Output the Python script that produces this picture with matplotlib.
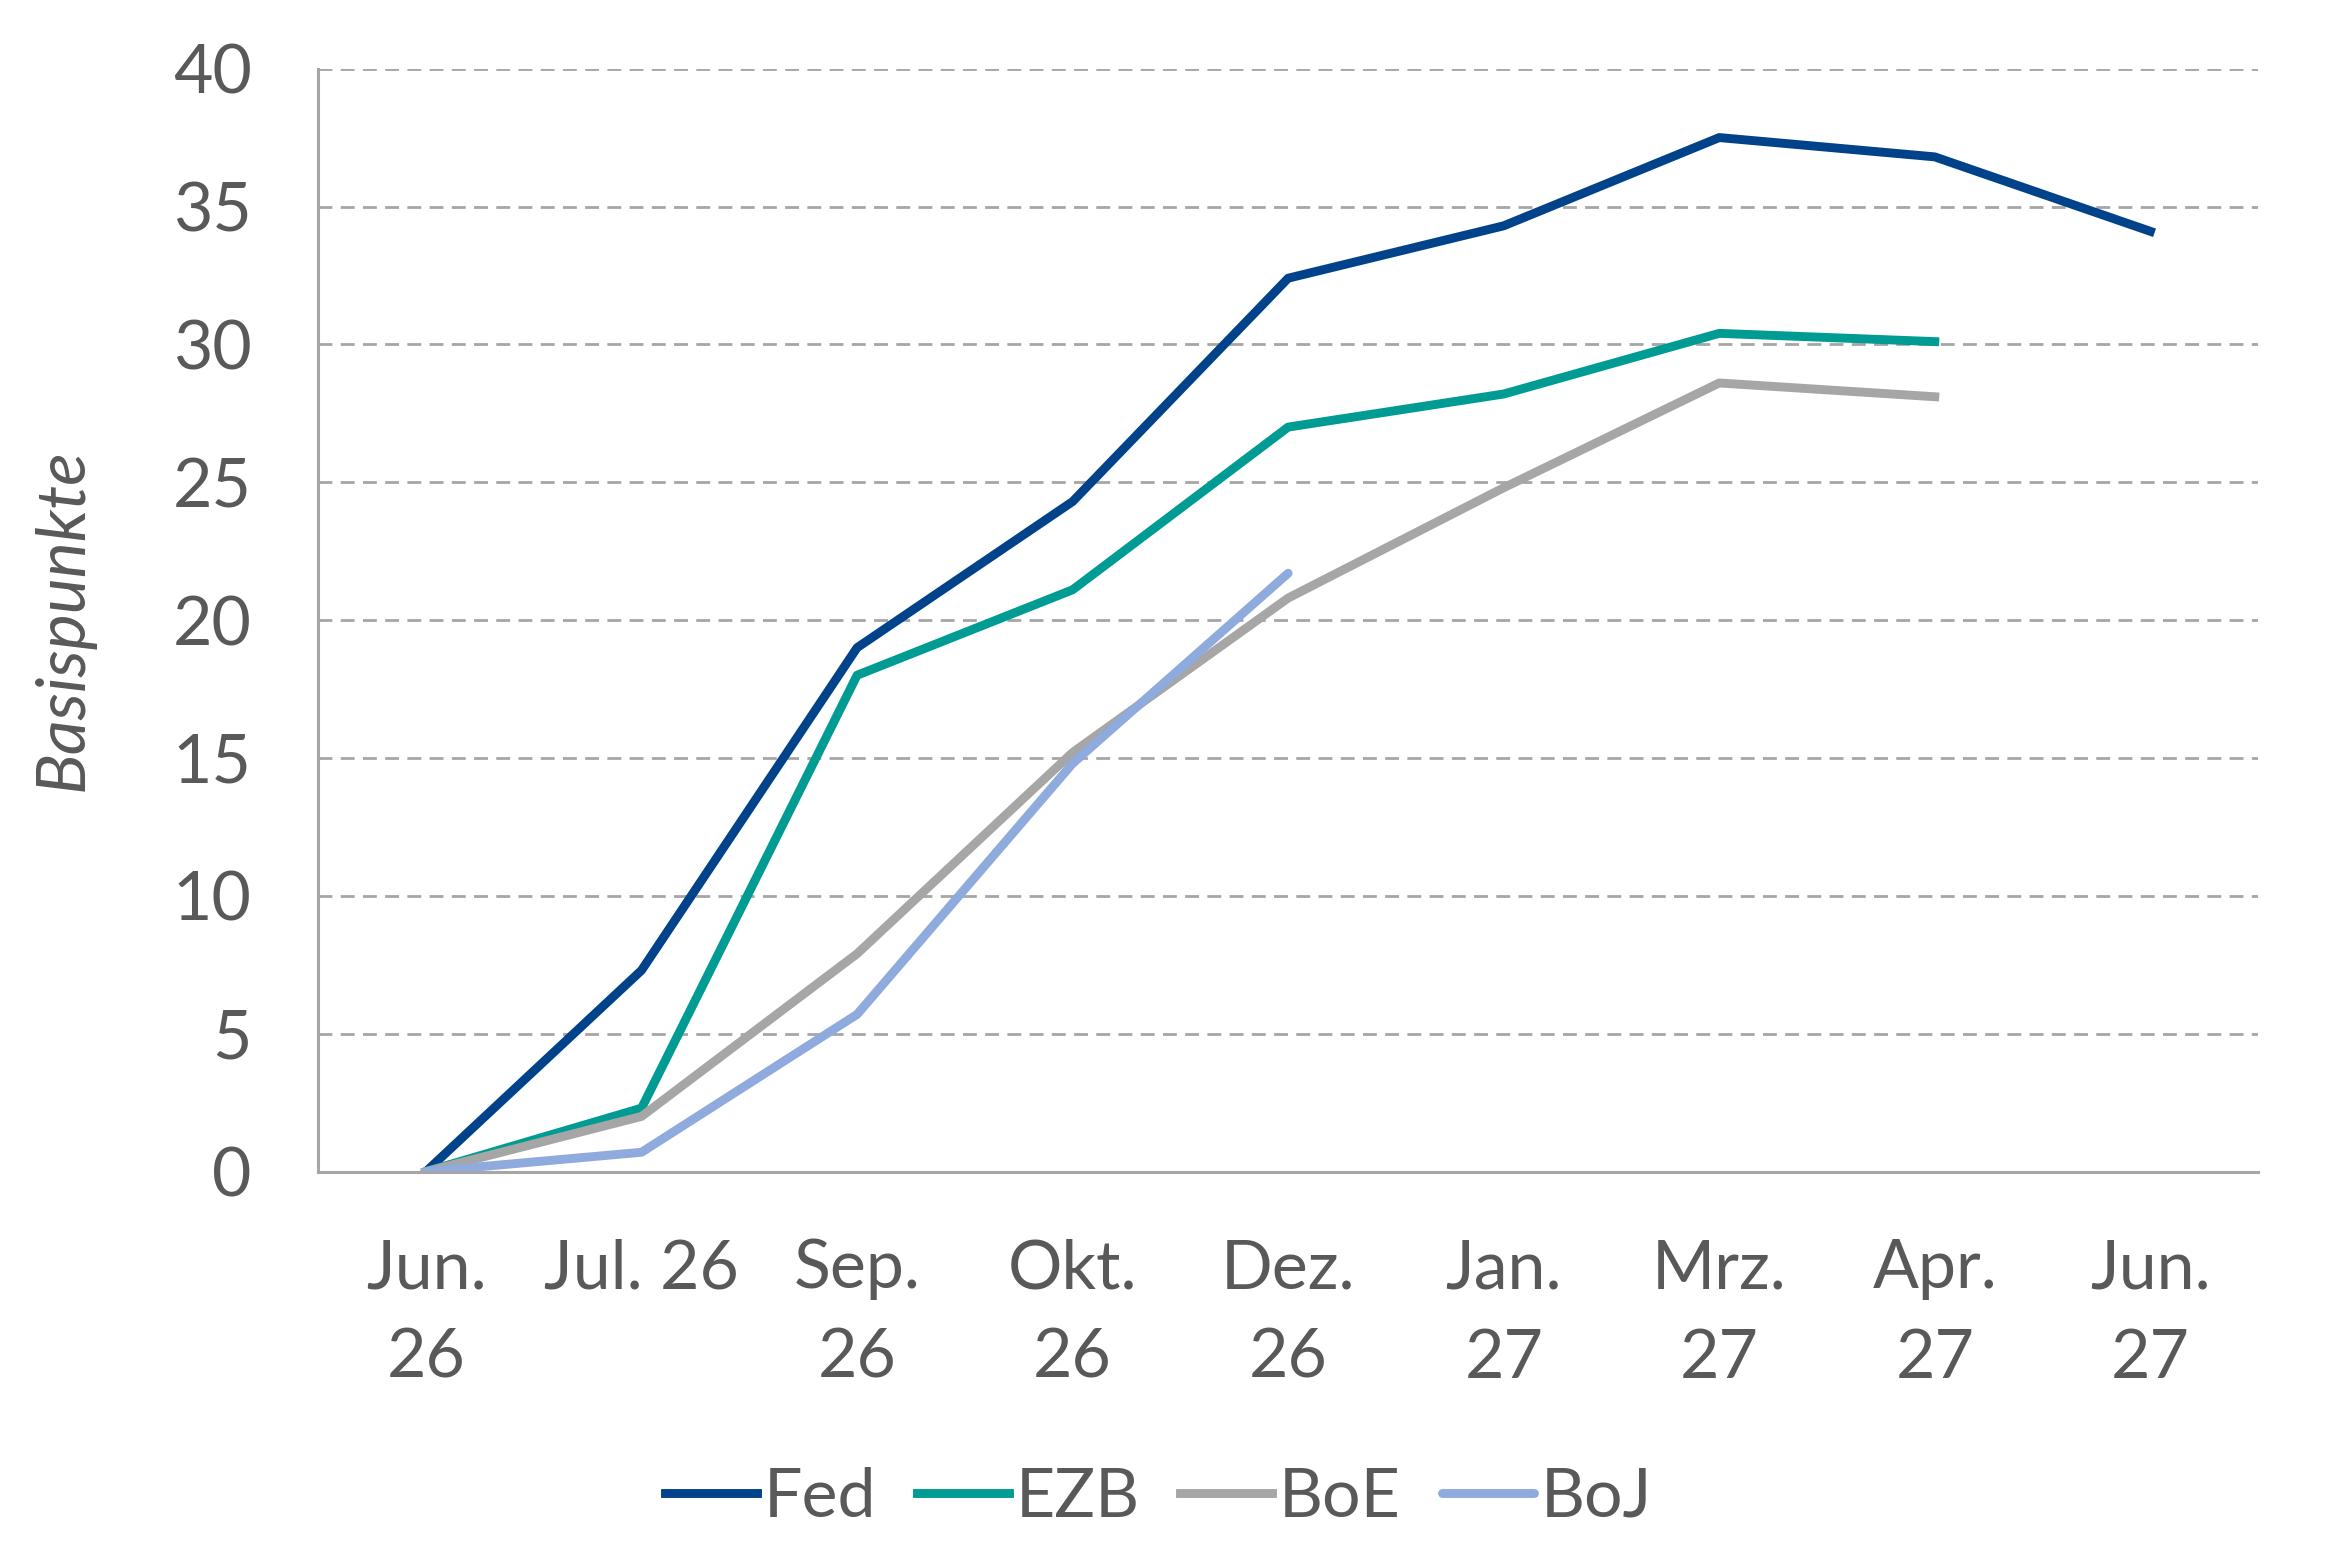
import numpy as np
import matplotlib.pyplot as plt

plt.rcParams['font.family'] = ['Lato', 'DejaVu Sans']

labels = ['Jun.\n26', 'Jul. 26', 'Sep.\n26', 'Okt.\n26', 'Dez.\n26',
          'Jan.\n27', 'Mrz.\n27', 'Apr.\n27', 'Jun.\n27']
fed = [0, 7.3, 19.0, 24.3, 32.4, 34.3, 37.5, 36.8, 34.1]
ezb = [0, 2.3, 18.0, 21.1, 27.0, 28.2, 30.4, 30.1, np.nan]
boe = [0, 2.0, 7.9, 15.2, 20.8, 24.8, 28.6, 28.1, np.nan]
boj = [0, 0.7, 5.7, 14.8, 21.7, np.nan, np.nan, np.nan, np.nan]

txt = '#595959'
fig = plt.figure(figsize=(11.7, 7.8), dpi=200)
ax = fig.add_axes([0.136, 0.249, 0.829, 0.707])

x = np.arange(len(labels))
ax.plot(x, fed, color='#00438A', lw=3.2, label='Fed')
ax.plot(x, ezb, color='#009B92', lw=3.2, label='EZB')
ax.plot(x, boe, color='#A6A6A6', lw=3.2, label='BoE')
ax.plot(x, boj, color='#8FAADC', lw=3.2, label='BoJ', solid_capstyle='round')

ax.set_xlim(-0.5, 8.5)
ax.set_ylim(0, 40)
ax.set_yticks(range(0, 41, 5))
ax.set_xticks(x)
ax.set_xticklabels(labels, linespacing=1.55)
ax.tick_params(axis='both', length=0, labelsize=24.5, colors=txt)
ax.tick_params(axis='x', pad=24)
ax.tick_params(axis='y', pad=24)
ax.yaxis.grid(True, color='#A6A6A6', ls=(0, (5, 3)), lw=1.0)
ax.set_axisbelow(True)
for s in ['top', 'right']:
    ax.spines[s].set_visible(False)
for s in ['left', 'bottom']:
    ax.spines[s].set_color('#A6A6A6')
    ax.spines[s].set_linewidth(1.1)

ax.set_ylabel('Basispunkte', fontsize=24.5, color=txt, style='italic', labelpad=28)

fig.legend(loc='center', bbox_to_anchor=(0.495, 0.04), ncol=4, frameon=False,
           fontsize=24.5, labelcolor=txt, handlelength=1.35, handletextpad=0.1,
           columnspacing=0.6)

fig.savefig('out.png', dpi=200, facecolor='white')
